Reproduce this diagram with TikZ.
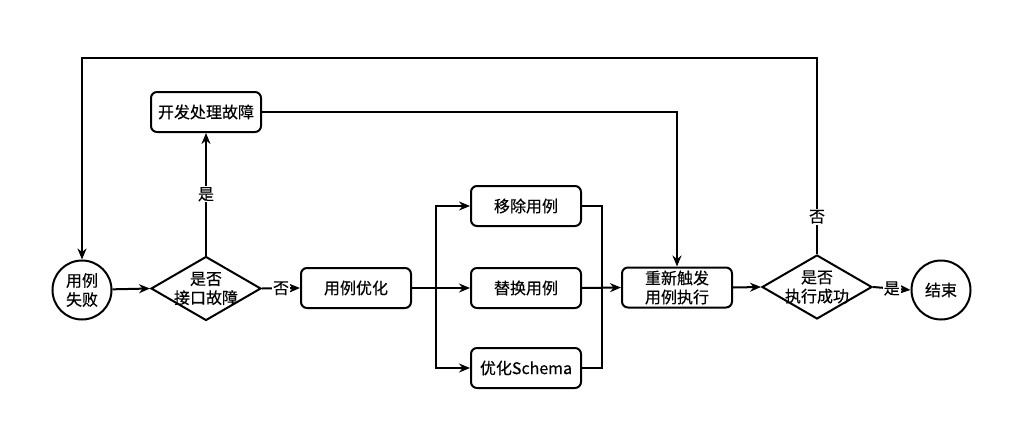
\documentclass[tikz,border=0pt]{standalone}
\usepackage{fontspec}
\newfontfamily\cjk[FakeBold=0.4]{Noto Sans CJK SC}
\usetikzlibrary{shapes.geometric,arrows.meta}
\begin{document}
\begin{tikzpicture}[x=1pt,y=-1pt,
  every node/.style={font=\cjk\fontsize{16}{19}\selectfont},
  proc/.style={draw,line width=2pt,rounded corners=6pt,minimum width=110pt,minimum height=40pt,inner sep=0pt,align=center},
  dec/.style={draw,line width=2pt,diamond,aspect=1.72,minimum width=110pt,minimum height=64pt,inner sep=0pt},
  term/.style={draw,line width=2pt,circle,minimum size=59pt,inner sep=0pt,align=center},
  conn/.style={line width=2pt,-{Stealth[length=11pt,width=9pt]}},
  plain/.style={line width=2pt},
  lbl/.style={fill=white,inner sep=1pt}]
\useasboundingbox (0,0) rectangle (1022,439);
\node[term] (fail) at (82,290) {用例\\失败};
\node[dec,label={[align=center]center:{是否\\接口故障}}] (d1) at (206,288.5) {};
\node[proc] (dev) at (206,112) {开发处理故障};
\node[proc] (opt) at (356,288) {用例优化};
\node[proc] (rm) at (526,206) {移除用例};
\node[proc] (rep) at (526,288) {替换用例};
\node[proc] (sch) at (526,368) {优化Schema};
\node[proc] (re) at (677,287.5) {重新触发\\用例执行};
\node[dec,label={[align=center]center:{是否\\执行成功}}] (d2) at (817,287) {};
\node[term] (end) at (941,290) {结束};
\coordinate (split) at (436,288);
\coordinate (merge) at (602,288);
\coordinate (tl) at (82,58);
\coordinate (tr) at (817,58);
\coordinate (dr) at (677,112);

\draw[conn] (fail) -- (d1.west);
\draw[conn] (d1.east) -- node[lbl]{否} (opt.west);
\draw[conn] (d1.north) -- node[lbl,pos=0.5]{是} (dev.south);
\draw[conn] (dev.east) -- (dr) -- (re.north);
\draw[plain] (opt.east) -- (split);
\draw[conn] (split) |- (rm.west);
\draw[conn] (split) -- (rep.west);
\draw[conn] (split) |- (sch.west);
\draw[plain] (rm.east) -| (merge);
\draw[plain] (sch.east) -| (merge);
\draw[conn] (rep.east) -- (re.west);
\draw[conn] (re.east) -- (d2.west);
\draw[conn] (d2.east) -- node[lbl]{是} (end.west);
\draw[conn] (d2.north) -- node[lbl,pos=0.19]{否} (tr) -- (tl) -- (fail.north);
\end{tikzpicture}
\end{document}
